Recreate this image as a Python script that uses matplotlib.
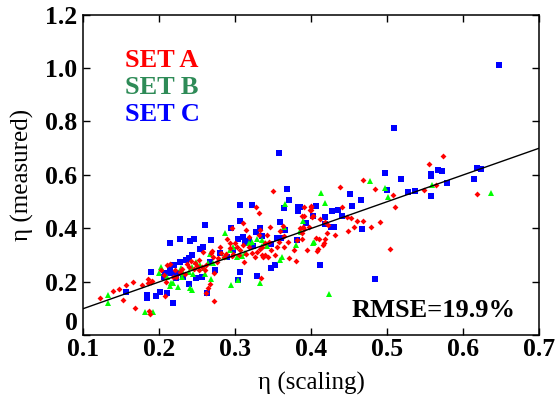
import matplotlib
matplotlib.use("Agg")
import matplotlib.pyplot as plt

plt.rcParams['font.family'] = ['Liberation Serif', 'DejaVu Serif']

# SET A (red diamonds)
ax_x = [0.123, 0.147, 0.157, 0.153, 0.166, 0.168, 0.185, 0.185, 0.189, 0.191, 0.187, 0.188,
        0.208, 0.209, 0.211, 0.214, 0.206, 0.203, 0.221, 0.223, 0.227, 0.237, 0.239, 0.247,
        0.250, 0.252, 0.256, 0.246, 0.253, 0.258, 0.267, 0.264, 0.262, 0.273, 0.273, 0.271,
        0.276, 0.280, 0.285, 0.296, 0.293, 0.311, 0.307, 0.312, 0.315, 0.322, 0.326, 0.329,
        0.333, 0.336, 0.337, 0.334, 0.328, 0.331, 0.333, 0.332, 0.342, 0.346, 0.350, 0.359,
        0.363, 0.365, 0.364, 0.370, 0.377, 0.371, 0.380, 0.386, 0.390, 0.397, 0.400, 0.399,
        0.388, 0.402, 0.388, 0.382, 0.395, 0.411, 0.314, 0.319, 0.335, 0.270, 0.268,
        0.290, 0.293, 0.288, 0.296, 0.300, 0.302, 0.298, 0.305, 0.310, 0.318, 0.340, 0.345,
        0.348, 0.355, 0.353, 0.358, 0.340, 0.344, 0.230, 0.234, 0.260, 0.262, 0.278, 0.282,
        0.242, 0.218, 0.178, 0.140,
        0.438, 0.469, 0.484, 0.508, 0.510, 0.549, 0.564, 0.618, 0.441, 0.448, 0.453, 0.460,
        0.468, 0.491, 0.479, 0.457, 0.449, 0.431, 0.421, 0.419, 0.417, 0.416, 0.409, 0.408,
        0.407, 0.400, 0.400, 0.391, 0.401, 0.412, 0.418, 0.423, 0.391, 0.391, 0.388, 0.504,
        0.574, 0.555]
ay_y = [0.142, 0.173, 0.189, 0.133, 0.201, 0.104, 0.210, 0.197, 0.201, 0.205, 0.092, 0.079,
        0.149, 0.201, 0.263, 0.268, 0.226, 0.245, 0.245, 0.217, 0.236, 0.266, 0.257, 0.272,
        0.261, 0.245, 0.255, 0.247, 0.282, 0.313, 0.191, 0.176, 0.160, 0.130, 0.232, 0.295,
        0.276, 0.331, 0.295, 0.400, 0.328, 0.419, 0.320, 0.276, 0.303, 0.310, 0.295, 0.313,
        0.322, 0.301, 0.292, 0.214, 0.479, 0.459, 0.394, 0.376, 0.376, 0.407, 0.541, 0.390,
        0.410, 0.372, 0.332, 0.351, 0.320, 0.288, 0.278, 0.400, 0.407, 0.404, 0.484, 0.469,
        0.447, 0.448, 0.382, 0.357, 0.320, 0.360, 0.394, 0.370, 0.332, 0.317, 0.310,
        0.360, 0.345, 0.305, 0.298, 0.345, 0.330, 0.305, 0.300, 0.340, 0.330, 0.345, 0.350,
        0.320, 0.330, 0.300, 0.350, 0.300, 0.295, 0.250, 0.230, 0.245, 0.265, 0.290, 0.310,
        0.280, 0.220, 0.190, 0.165,
        0.555, 0.582, 0.548, 0.524, 0.482, 0.544, 0.561, 0.529, 0.479, 0.444, 0.441, 0.428,
        0.428, 0.424, 0.407, 0.407, 0.392, 0.376, 0.384, 0.360, 0.347, 0.337, 0.323, 0.314,
        0.364, 0.481, 0.470, 0.481, 0.444, 0.434, 0.425, 0.412, 0.446, 0.398, 0.361, 0.322,
        0.671, 0.642]

# SET B (green triangles)
bx_x = [0.133, 0.133, 0.182, 0.192, 0.202, 0.200, 0.211, 0.214, 0.216, 0.219, 0.225, 0.230,
        0.232, 0.229, 0.239, 0.243, 0.241, 0.244, 0.245, 0.249, 0.254, 0.259, 0.261, 0.264,
        0.267, 0.268, 0.271, 0.285, 0.287, 0.295, 0.304, 0.333, 0.293, 0.298, 0.302, 0.309,
        0.313, 0.318, 0.323, 0.329, 0.335, 0.339, 0.342, 0.335, 0.359, 0.362, 0.364, 0.366,
        0.390, 0.386, 0.380, 0.403, 0.413, 0.419, 0.387, 0.404, 0.424, 0.477, 0.498, 0.501,
        0.559, 0.637]
by_y = [0.151, 0.120, 0.088, 0.089, 0.257, 0.235, 0.220, 0.185, 0.197, 0.195, 0.180, 0.220,
        0.232, 0.251, 0.239, 0.255, 0.176, 0.170, 0.230, 0.276, 0.263, 0.251, 0.230, 0.272,
        0.304, 0.210, 0.270, 0.295, 0.382, 0.189, 0.208, 0.195, 0.320, 0.330, 0.295, 0.297,
        0.307, 0.347, 0.348, 0.360, 0.357, 0.345, 0.333, 0.333, 0.282, 0.292, 0.405, 0.492,
        0.429, 0.391, 0.339, 0.347, 0.534, 0.496, 0.388, 0.351, 0.155, 0.578, 0.553, 0.516,
        0.564, 0.531]

# SET C (blue squares)
cx_x = [0.358, 0.369, 0.371, 0.365, 0.383, 0.383, 0.406, 0.306, 0.322, 0.306, 0.260, 0.214,
        0.227, 0.241, 0.246, 0.268, 0.254, 0.258, 0.243, 0.236, 0.239, 0.228, 0.220, 0.214,
        0.208, 0.215, 0.224, 0.190, 0.206, 0.249, 0.239, 0.295, 0.156, 0.184, 0.184, 0.201,
        0.210, 0.219, 0.196, 0.263,
        0.304, 0.310, 0.313, 0.318, 0.324, 0.327, 0.333, 0.336, 0.348, 0.355, 0.361, 0.366,
        0.348, 0.352, 0.329, 0.306, 0.304, 0.359, 0.381, 0.217, 0.232, 0.267, 0.274, 0.280,
        0.289, 0.257, 0.223, 0.298,
        0.497, 0.518, 0.558, 0.558, 0.572, 0.579, 0.615, 0.623, 0.558, 0.528, 0.537, 0.500,
        0.451, 0.466, 0.454, 0.428, 0.435, 0.441, 0.407, 0.386, 0.402, 0.419, 0.393, 0.426,
        0.430, 0.419, 0.467, 0.412, 0.484, 0.509, 0.647, 0.567, 0.618]
cy_y = [0.683, 0.546, 0.507, 0.478, 0.479, 0.464, 0.484, 0.486, 0.486, 0.428, 0.412, 0.347,
        0.359, 0.355, 0.362, 0.357, 0.325, 0.329, 0.300, 0.282, 0.288, 0.274, 0.264, 0.255,
        0.232, 0.232, 0.232, 0.236, 0.220, 0.216, 0.191, 0.401, 0.164, 0.152, 0.140, 0.164,
        0.158, 0.122, 0.148, 0.160,
        0.359, 0.367, 0.345, 0.355, 0.336, 0.386, 0.403, 0.373, 0.341, 0.363, 0.363, 0.394,
        0.251, 0.264, 0.224, 0.239, 0.208, 0.423, 0.358, 0.232, 0.220, 0.275, 0.245, 0.308,
        0.292, 0.220, 0.214, 0.320,
        0.609, 0.585, 0.603, 0.597, 0.616, 0.569, 0.585, 0.622, 0.521, 0.536, 0.540, 0.544,
        0.528, 0.507, 0.485, 0.467, 0.471, 0.448, 0.484, 0.479, 0.448, 0.444, 0.419, 0.407,
        0.407, 0.416, 0.398, 0.264, 0.211, 0.777, 1.011, 0.619, 0.626]

line_x = [0.1, 0.7]
xticks = [0.1, 0.2, 0.3, 0.4, 0.5, 0.6, 0.7]
yticks = [0, 0.2, 0.4, 0.6, 0.8, 1.0, 1.2]
ylabels = ["0", "0.2", "0.4", "0.6", "0.8", "1.0", "1.2"]

fig = plt.figure(figsize=(5.58, 4.12), dpi=100)
ax = fig.add_axes([0.1487, 0.1857, 0.8173, 0.7791])

ax.plot(cx_x, cy_y, 's', color='#0000ff', ms=4.2, mew=0)
ax.plot(bx_x, by_y, '^', color='#00ff00', ms=5, mew=0)
ax.plot(ax_x, ay_y, 'D', color='#ff0000', ms=3, mew=0)
ax.plot(line_x, line_x, color='black', lw=1)

ax.set_xlim(0.1, 0.7)
ax.set_ylim(0, 1.2)
ax.set_xticks(xticks)
ax.set_xticklabels([str(t) for t in xticks])
ax.set_yticks(yticks)
ax.set_yticklabels(ylabels)
ax.tick_params(direction='in', top=True, right=True, length=5, width=1, labelsize=18.5)
ax.tick_params(axis='x', pad=2)
ax.tick_params(axis='y', pad=4)
for lab in ax.get_xticklabels() + ax.get_yticklabels():
    lab.set_fontweight('bold')
# "0" sits just above the corner, as in the original
ax.get_yticklabels()[0].set_verticalalignment('bottom')
for s in ax.spines.values():
    s.set_linewidth(1.1)

ax.set_xlabel("η (scaling)", fontsize=18, labelpad=8)
ax.set_ylabel("η (measured)", fontsize=18, labelpad=8)

ax.text(0.155, 1.005, "SET A", color='#ff0000', fontsize=19, fontweight='bold')
ax.text(0.155, 0.902, "SET B", color='#2e8b57', fontsize=19, fontweight='bold')
ax.text(0.155, 0.803, "SET C", color='#0000ff', fontsize=19, fontweight='bold')
ax.text(0.454, 0.07, "RMSE=19.9%", color='black', fontsize=19, fontweight='bold')

fig.savefig("out.png", dpi=100)
